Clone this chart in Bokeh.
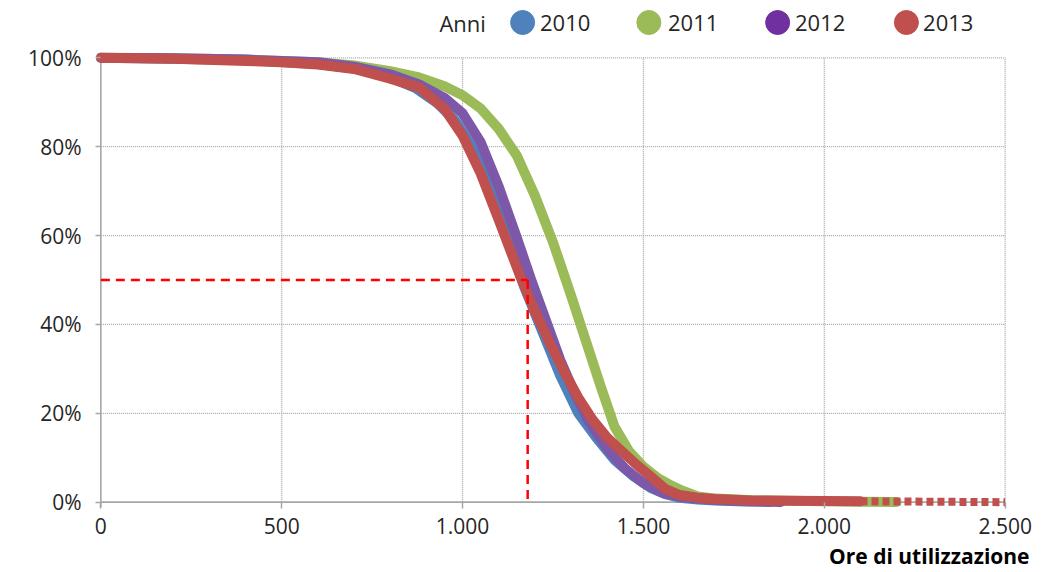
from bokeh.plotting import figure
from bokeh.models import Range1d, FixedTicker, Title
from bokeh.layouts import column
from bokeh.core.properties import value
from bokeh.embed import file_html
from bokeh.resources import INLINE

# ---------------- data ----------------
years = ["2010", "2011", "2012", "2013"]
line_colors = ["#4F81BD", "#9BBB59", "#7E58A8", "#C0504D"]
legend_colors = ["#4F81BD", "#9BBB59", "#7030A0", "#C0504D"]

x_2010 = [0, 200, 400, 600, 700, 800, 870, 930, 980, 1030, 1080, 1130, 1170, 1220, 1270,
          1320, 1370, 1420, 1470, 1520, 1560, 1600, 1650, 1700, 1780, 1850]
y_2010 = [100, 99.8, 99.5, 98.6, 97.6, 95.6, 93.2, 89.8, 85.8, 79.5, 69.5, 58.5, 48.5, 38.5, 28.5,
          20.0, 14.5, 9.5, 6.0, 3.2, 1.8, 1.0, 0.6, 0.35, 0.15, 0.05]

x_2011 = [0, 200, 400, 600, 700, 800, 880, 950, 1000, 1050, 1100, 1150, 1200, 1250, 1300,
          1340, 1380, 1420, 1460, 1500, 1540, 1580, 1610, 1650, 1700, 1800, 1900, 2000, 2100, 2200]
y_2011 = [100, 99.9, 99.6, 99.0, 98.3, 97.0, 95.6, 93.6, 91.6, 88.6, 84.0, 78.0, 69.0, 58.5, 46.5,
          36.5, 26.5, 17.0, 11.5, 8.0, 5.4, 3.6, 2.5, 1.3, 0.8, 0.45, 0.3, 0.2, 0.12, 0.05]

x_2012 = [0, 200, 400, 600, 700, 800, 880, 950, 1000, 1050, 1100, 1150, 1190, 1230, 1270,
          1310, 1350, 1400, 1450, 1500, 1550, 1600, 1650, 1700, 1800, 1880]
y_2012 = [100, 99.9, 99.6, 99.0, 98.0, 96.3, 94.0, 91.0, 87.5, 81.0, 71.0, 59.5, 50.0, 41.0, 32.0,
          24.5, 18.0, 12.0, 7.5, 4.3, 2.2, 1.2, 0.8, 0.5, 0.2, 0.05]

x_2013 = [0, 200, 400, 500, 600, 700, 800, 880, 950, 1000, 1050, 1100, 1160, 1200, 1240, 1280,
          1320, 1360, 1400, 1440, 1480, 1520, 1560, 1600, 1650, 1700, 1800, 1900, 2000, 2100,
          2200, 2300, 2400, 2500]
y_2013 = [100, 99.8, 99.3, 99.0, 98.5, 97.5, 95.3, 93.3, 88.5, 82.5, 74.0, 63.5, 50.7, 43.0, 36.0, 29.5,
          23.5, 18.5, 14.5, 11.5, 8.5, 5.8, 3.0, 1.6, 1.0, 0.7, 0.4, 0.3, 0.25, 0.2,
          0.15, 0.1, 0.05, 0.0]

x_ticks = [0, 500, 1000, 1500, 2000, 2500]
x_tick_labels = ["0", "500", "1.000", "1.500", "2.000", "2.500"]
y_ticks = [0, 20, 40, 60, 80, 100]
y_tick_labels = ["0%", "20%", "40%", "60%", "80%", "100%"]

median_hours = 1180
median_pct = 50

x_title = "Ore di utilizzazione"
legend_title = "Anni"

series_x = [x_2010, x_2011, x_2012, x_2013]
series_y = [y_2010, y_2011, y_2012, y_2013]

FONT = "Open Sans"
TEXT_COLOR = "#262626"
AXIS_COLOR = "#A6A6A6"
GRID_COLOR = "#A8A8A8"

W = 1048
LEG_H = 40
x_range = Range1d(-12, 2512)

# ---------------- legend strip ----------------
lf = figure(width=W, height=LEG_H, x_range=x_range, y_range=Range1d(0, LEG_H),
            x_axis_type=None, y_axis_type=None,
            output_backend="svg", toolbar_location=None,
            min_border_left=96, min_border_right=39, min_border_top=0, min_border_bottom=0)
lf.outline_line_color = None
lf.grid.visible = False

legend_title_x = 936
legend_circle_x = [1166, 1515, 1871, 2227]
legend_text_x = [1214, 1568, 1919, 2273]
legend_y = 18

lf.text(x=[legend_title_x], y=[legend_y], text=[legend_title], text_font=value(FONT),
        text_font_size="22px", text_color=TEXT_COLOR, text_baseline="middle", text_align="left")
lf.scatter(x=legend_circle_x, y=[legend_y] * len(years), size=24, marker="circle",
           fill_color=legend_colors, line_color=legend_colors)
lf.text(x=legend_text_x, y=[legend_y] * len(years), text=years, text_font=value(FONT),
        text_font_size="22px", text_color=TEXT_COLOR, text_baseline="middle", text_align="left")

# ---------------- main figure ----------------
p = figure(width=W, height=572 - LEG_H,
           x_range=x_range, y_range=Range1d(-1.2, 101.2),
           output_backend="svg", toolbar_location=None,
           min_border_left=96, min_border_right=39, min_border_top=12, min_border_bottom=64)
p.outline_line_color = None
p.xgrid.visible = False
p.ygrid.visible = False

# grid lines (dotted)
gx = [t for t in x_ticks if t > 0]
p.segment(x0=gx, y0=[y_ticks[0]] * len(gx), x1=gx, y1=[y_ticks[-1]] * len(gx),
          line_color=GRID_COLOR, line_width=1.3, line_dash="1 1")
gy = [t for t in y_ticks if t > 0]
p.segment(x0=[x_ticks[0]] * len(gy), y0=gy, x1=[x_ticks[-1]] * len(gy), y1=gy,
          line_color=GRID_COLOR, line_width=1.3, line_dash="1 1")

# axis lines
p.segment(x0=[x_ticks[0]], y0=[y_ticks[0]], x1=[x_ticks[-1]], y1=[y_ticks[0]],
          line_color=AXIS_COLOR, line_width=1.6)
p.segment(x0=[x_ticks[0]], y0=[-1.2], x1=[x_ticks[0]], y1=[y_ticks[-1]],
          line_color=AXIS_COLOR, line_width=1.6)

# curves (the 2013 tail, drawn by Excel as sparse markers, is shown dashed)
for xs, ys, c, yr in zip(series_x, series_y, line_colors, years):
    if yr == "2013":
        n = len([x for x in xs if x <= 2100])
        p.line(xs[:n], ys[:n], line_color=c, line_width=10, line_join="round", line_cap="round")
        p.line(xs[n - 1:], ys[n - 1:], line_color=c, line_width=8, line_dash="7 4", line_cap="butt")
    else:
        p.line(xs, ys, line_color=c, line_width=10, line_join="round", line_cap="round")

# median reference lines
p.line([x_ticks[0], median_hours], [median_pct, median_pct], line_color="#FF0000",
       line_width=2.5, line_dash="9 6")
p.line([median_hours, median_hours], [median_pct, y_ticks[0]], line_color="#FF0000",
       line_width=2.5, line_dash="9 6")

# axes
p.xaxis.ticker = FixedTicker(ticks=x_ticks)
p.xaxis.major_label_overrides = {t: l for t, l in zip(x_ticks, x_tick_labels)}
p.yaxis.ticker = FixedTicker(ticks=y_ticks)
p.yaxis.major_label_overrides = {t: l for t, l in zip(y_ticks, y_tick_labels)}
for ax in (p.xaxis, p.yaxis):
    ax.axis_line_color = None
    ax.major_tick_line_color = AXIS_COLOR
    ax.major_tick_line_width = 1.5
    ax.minor_tick_line_color = None
    ax.major_label_text_font = FONT
    ax.major_label_text_font_size = "21px"
    ax.major_label_text_color = TEXT_COLOR
p.xaxis.major_tick_in = 5
p.xaxis.major_tick_out = 1
p.xaxis.major_label_standoff = 9
p.yaxis.major_tick_in = 4
p.yaxis.major_tick_out = 1
p.yaxis.major_label_standoff = 14

# x axis title (right aligned, bold) below the axis
p.add_layout(Title(text=x_title, align="right", offset=-20, standoff=6,
                   text_font=FONT, text_font_size="21px", text_font_style="bold",
                   text_color="#000000"), "below")

open("out.html", "w").write(file_html(column(lf, p, spacing=0), INLINE))
